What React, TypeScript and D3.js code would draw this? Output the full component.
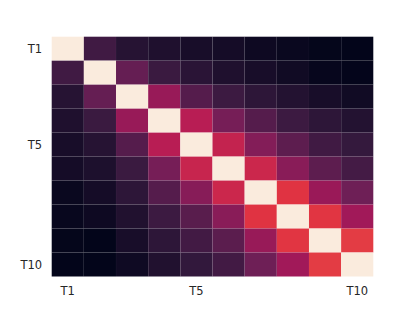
import React from 'react';
import * as d3 from 'd3';

// tick names for rows / columns
const labels = ['T1', 'T2', 'T3', 'T4', 'T5', 'T6', 'T7', 'T8', 'T9', 'T10'];
const shownTicks = ['T1', 'T5', 'T10'];

// normalised similarity (diagonal = 1)
const row1 = [1, 0.17, 0.1, 0.08, 0.06, 0.05, 0.03, 0.02, 0.005, 0];
const row2 = [0.17, 1, 0.26, 0.155, 0.11, 0.08, 0.06, 0.04, 0.01, 0.003];
const row3 = [0.1, 0.26, 1, 0.38, 0.22, 0.16, 0.12, 0.09, 0.06, 0.04];
const row4 = [0.08, 0.155, 0.38, 1, 0.46, 0.3, 0.22, 0.16, 0.12, 0.09];
const row5 = [0.06, 0.1, 0.22, 0.46, 1, 0.49, 0.33, 0.24, 0.17, 0.14];
const row6 = [0.05, 0.075, 0.155, 0.3, 0.5, 1, 0.51, 0.345, 0.24, 0.18];
const row7 = [0.02, 0.05, 0.12, 0.22, 0.34, 0.51, 1, 0.57, 0.385, 0.28];
const row8 = [0.015, 0.03, 0.085, 0.16, 0.23, 0.345, 0.57, 1, 0.575, 0.4];
const row9 = [0.005, 0, 0.06, 0.12, 0.175, 0.235, 0.38, 0.575, 1, 0.59];
const row10 = [0, 0, 0.035, 0.085, 0.135, 0.175, 0.28, 0.4, 0.59, 1];
const matrix = [row1, row2, row3, row4, row5, row6, row7, row8, row9, row10];

// seaborn "rocket" anchor colours
const rocket = ['#03051a', '#35193e', '#701f57', '#ad1759', '#e13342', '#f37651', '#f6b48f', '#faebdd'];

const W = 415;
const H = 311;
const margin = { left: 51.7, right: 41.7, top: 36.7, bottom: 34.5 };

export default function App() {
  const x = d3.scaleBand().domain(labels).range([margin.left, W - margin.right]);
  const y = d3.scaleBand().domain(labels).range([margin.top, H - margin.bottom]);
  const color = d3
    .scaleLinear<string>()
    .domain(d3.range(rocket.length).map((i) => i / (rocket.length - 1)))
    .range(rocket)
    .interpolate(d3.interpolateRgb);

  const cells = matrix.flatMap((row, i) =>
    row.map((v, j) => ({ r: labels[i], c: labels[j], v }))
  );

  return (
    <div style={{ position: 'absolute', left: 0, top: 0 }}>
      <svg width={W} height={H} style={{ display: 'block', background: '#fff' }}>
        <g>
          {cells.map((d) => (
            <rect
              key={d.r + '-' + d.c}
              x={x(d.c)}
              y={y(d.r)}
              width={x.bandwidth()}
              height={y.bandwidth()}
              fill={color(d.v)}
              stroke="rgba(255,255,255,0.035)"
              strokeWidth={0.5}
            />
          ))}
        </g>
        <g fontFamily="DejaVu Sans" fontSize={11.5} fill="#262626">
          {shownTicks.map((t) => (
            <text
              key={'y' + t}
              x={margin.left - 9.5}
              y={(y(t) as number) + y.bandwidth() / 2}
              textAnchor="end"
              dominantBaseline="central"
            >
              {t}
            </text>
          ))}
          {shownTicks.map((t) => (
            <text
              key={'x' + t}
              x={(x(t) as number) + x.bandwidth() / 2}
              y={H - margin.bottom + 18.5}
              textAnchor="middle"
            >
              {t}
            </text>
          ))}
        </g>
      </svg>
    </div>
  );
}
